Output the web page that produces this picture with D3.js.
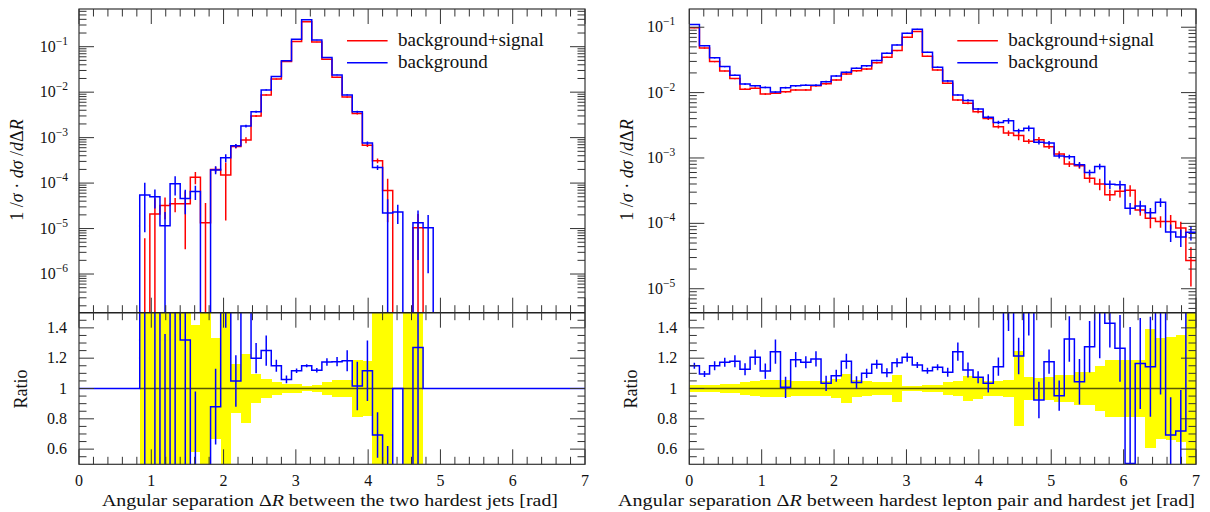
<!DOCTYPE html>
<html>
<head>
<meta charset="utf-8">
<script src="https://cdn.jsdelivr.net/npm/d3@7"></script>
<style>
  body { margin: 0; background: #fff; }
  svg { display: block; }
  text { font-family: "Liberation Serif", "DejaVu Serif", serif; fill: #111; }
</style>
</head>
<body>
<svg id="canvas"></svg>
<script>
// bins in Delta R, 50 bins of 0.14 rad
const binEdges = [0,0.14,0.28,0.42,0.56,0.7,0.84,0.98,1.12,1.26,1.4,1.54,1.68,1.82,1.96,2.1,2.24,2.38,2.52,2.66,2.8,2.94,3.08,3.22,3.36,3.5,3.64,3.78,3.92,4.06,4.2,4.34,4.48,4.62,4.76,4.9,5.04,5.18,5.32,5.46,5.6,5.74,5.88,6.02,6.16,6.3,6.44,6.58,6.72,6.86,7]
const xTicks = [0,1,2,3,4,5,6,7]
const ratioTicks = [0.6,0.8,1,1.2,1.4]
const ratioTickLabels = ['0.6','0.8','1','1.2','1.4']
const legendLabels = ['background+signal','background']

// left: two hardest jets
const jetsSigBkg = [0,0,0,0,0,0,1.2e-7,2.1e-5,3.2e-5,3.5e-5,3.5e-5,1.35e-4,1.35e-5,2.0e-4,1.5e-4,6.4e-4,8.9e-4,3.0e-3,8.7e-3,1.95e-2,4.7e-2,0.13,0.355,0.127,0.053,0.0213,7.8e-3,3.4e-3,6.8e-4,3.1e-4,6.9e-5,0,0,1.04e-5,0,0,0,0,0,0,0,0,0,0,0,0,0,0,0,0]
const jetsSigBkgErr = [0,0,0,0,0,0,50,1.2,0.5,0.35,0.9,0.3,1.7,0.15,0.9,0.1,0.15,0.05,0.03,0.02,0.015,0.01,0.01,0.01,0.015,0.02,0.03,0.05,0.08,0.12,0.8,0,0,1.0,0,0,0,0,0,0,0,0,0,0,0,0,0,0,0,0]
const jetsBkg = [0,0,0,0,0,0,5.5e-5,5.0e-5,1.15e-5,9.7e-5,4.6e-5,6.5e-5,0,1.95e-4,3.6e-4,6.6e-4,1.8e-3,3.7e-3,1.12e-2,2.2e-2,4.9e-2,0.145,0.39,0.14,0.058,0.024,8.7e-3,3.7e-3,7.6e-4,2.2e-4,2.2e-5,2.3e-5,0,1.35e-5,1.04e-5,0,0,0,0,0,0,0,0,0,0,0,0,0,0,0]
const jetsBkgErr = [0,0,0,0,0,0,0.85,0.45,1.0,0.45,0.55,0.35,0,0.2,0.2,0.1,0.07,0.05,0.03,0.02,0.015,0.01,0.01,0.01,0.015,0.02,0.03,0.05,0.08,0.12,1.0,0.45,0,0.85,0.9,0,0,0,0,0,0,0,0,0,0,0,0,0,0,0]
const jetsRatio = [1,1,1,1,1,1,3,2.4,0.36,2.8,1.32,0.48,0,0.88,2.4,1.05,2.0,1.2,1.25,1.15,1.06,1.117,1.15,1.12,1.175,1.177,1.183,1.016,1.117,0.693,0.32,1,0,1.27,1,1,1,1,1,1,1,1,1,1,1,1,1,1,1,1]
const jetsRatioErr = [0,0,0,0,0,0,3,3,1,3,1,0.5,0,0.25,1,0.17,0.3,0.1,0.1,0.04,0.025,0.015,0.01,0.015,0.025,0.03,0.07,0.16,0.2,0.15,0.3,0,0,1,0,0,0,0,0,0,0,0,0,0,0,0,0,0,0,0]
const jetsBand = [0,0,0,0,0,0,1,1,1,1,1,0.42,1,0.33,1,0.16,0.23,0.095,0.065,0.045,0.03,0.03,0.015,0.02,0.045,0.055,0.055,0.19,0.18,0.5,1,0,1,1,0,0,0,0,0,0,0,0,0,0,0,0,0,0,0,0]

// right: hardest lepton pair and hardest jet
const lepSigBkg = [0.098,0.048,0.0298,0.0214,0.0164,0.0113,0.0117,0.0095,0.0098,0.0103,0.011,0.011,0.0127,0.0136,0.0156,0.0193,0.0215,0.0229,0.0287,0.0347,0.0439,0.070,0.086,0.036,0.0222,0.0139,0.0077,0.0069,0.0051,0.0040,0.0030,0.0024,0.0022,0.0018,0.0019,0.00149,0.00115,0.00081,7.6e-4,4.9e-4,4.0e-4,2.75e-4,3.1e-4,3.2e-4,1.6e-4,1.2e-4,1.07e-4,1.07e-4,8.5e-5,2.7e-5]
const lepSigBkgErr = [0.015,0.02,0.02,0.02,0.02,0.03,0.03,0.03,0.03,0.03,0.03,0.03,0.03,0.03,0.03,0.03,0.03,0.03,0.025,0.025,0.02,0.02,0.02,0.02,0.025,0.03,0.03,0.04,0.05,0.05,0.06,0.1,0.15,0.08,0.1,0.08,0.1,0.1,0.1,0.15,0.2,0.2,0.2,0.2,0.18,0.3,0.2,0.25,0.25,0.6]
const lepBkg = [0.11,0.052,0.034,0.025,0.0185,0.0135,0.0127,0.012,0.0102,0.0119,0.0127,0.013,0.013,0.0147,0.018,0.0204,0.0236,0.0257,0.031,0.040,0.0537,0.081,0.093,0.0415,0.0244,0.0151,0.0092,0.0076,0.0056,0.0042,0.0035,0.0037,0.0026,0.00285,0.00174,0.0017,0.00107,0.00104,7.9e-4,6.0e-4,7.4e-4,3.95e-4,3.9e-4,1.7e-4,1.85e-4,1.45e-4,2.1e-4,7.4e-5,6.2e-5,7.3e-5]
const lepBkgErr = [0.015,0.02,0.02,0.02,0.02,0.03,0.03,0.03,0.03,0.03,0.03,0.03,0.03,0.03,0.03,0.03,0.03,0.03,0.025,0.025,0.02,0.02,0.02,0.02,0.025,0.03,0.03,0.04,0.04,0.05,0.06,0.1,0.08,0.1,0.08,0.07,0.08,0.08,0.1,0.1,0.1,0.15,0.15,0.2,0.2,0.18,0.15,0.3,0.3,0.25]
const lepRatio = [1.15,1.096,1.15,1.173,1.18,1.127,1.206,1.115,1.243,1.008,1.19,1.173,1.195,1.034,1.084,1.18,1.04,1.10,1.16,1.104,1.17,1.206,1.155,1.117,1.14,1.107,1.243,1.122,1.074,1.034,1.144,1.55,1.214,1.6,0.924,1.177,0.953,1.327,1.045,1.276,1.85,1.43,1.265,0.505,1.165,1.144,1.96,0.693,0.72,2.7]
const lepRatioErr = [0.02,0.02,0.03,0.03,0.04,0.04,0.05,0.05,0.08,0.07,0.05,0.04,0.05,0.05,0.04,0.05,0.04,0.03,0.03,0.03,0.03,0.03,0.02,0.02,0.02,0.03,0.06,0.05,0.04,0.06,0.06,0.17,0.12,0.25,0.12,0.08,0.1,0.15,0.15,0.17,0.65,0.16,0.22,0.9,0.3,0.33,1.0,0.25,0.27,0.5]
const lepBand = [0.02,0.02,0.025,0.03,0.03,0.04,0.05,0.055,0.055,0.055,0.05,0.05,0.05,0.05,0.06,0.095,0.055,0.05,0.04,0.04,0.09,0.015,0.015,0.02,0.025,0.045,0.05,0.08,0.07,0.05,0.05,0.055,0.25,0.075,0.07,0.075,0.09,0.09,0.11,0.11,0.15,0.19,0.19,0.19,0.19,0.39,0.33,0.34,0.35,1]

const width = 1210
const height = 512
const topY = 9
const splitY = 312.7
const bottomY = 464.3
const red = '#ff0000'
const blue = '#0000ff'

let canvas = d3.select('#canvas')
canvas.attr('width', width)
canvas.attr('height', height)
let defs = canvas.append('defs')

let panels = [
    {id: 'jets', left: 79, right: 585, yMin: 1.41e-7, yMax: 0.675, logGap: 11,
     sig: jetsSigBkg, sigErr: jetsSigBkgErr, bkg: jetsBkg, bkgErr: jetsBkgErr,
     ratio: jetsRatio, ratioErr: jetsRatioErr, band: jetsBand,
     yTitleX: 22.7, ratioTitleX: 26.7, xTitle: ['Angular separation Δ', 'R', ' between the two hardest jets [rad]'],
     xTitleStart: 102, xTitleLen: 456},
    {id: 'lep', left: 689.3, right: 1196, yMin: 4.3e-6, yMax: 0.19, logGap: 14,
     sig: lepSigBkg, sigErr: lepSigBkgErr, bkg: lepBkg, bkgErr: lepBkgErr,
     ratio: lepRatio, ratioErr: lepRatioErr, band: lepBand,
     yTitleX: 633, ratioTitleX: 637.3, xTitle: ['Angular separation Δ', 'R', ' between hardest lepton pair and hardest jet [rad]'],
     xTitleStart: 618, xTitleLen: 577}
]

let drawPanel = (p) => {
    let xScale = d3.scaleLinear().domain([0, 7]).range([p.left, p.right])
    let yScale = d3.scaleLog().domain([p.yMin, p.yMax]).range([splitY, topY])
    let rScale = d3.scaleLinear().domain([0.5, 1.5]).range([bottomY, splitY])

    defs.append('clipPath').attr('id', 'top-' + p.id).append('rect')
        .attr('x', p.left).attr('y', topY).attr('width', p.right - p.left).attr('height', splitY - topY)
    defs.append('clipPath').attr('id', 'ratio-' + p.id).append('rect')
        .attr('x', p.left).attr('y', splitY).attr('width', p.right - p.left).attr('height', bottomY - splitY)

    let yTop = (v) => v > p.yMin ? yScale(v) : splitY + 6
    let yRat = (r) => rScale(Math.max(0.4, Math.min(1.6, r)))
    let points = (vals) => vals.map((v, i) => ({x: binEdges[i], v: v}))
        .concat([{x: binEdges[vals.length], v: vals[vals.length - 1]}])
    let stepLine = (yFn) => d3.line().x(d => xScale(d.x)).y(d => yFn(d.v)).curve(d3.curveStepAfter)
    let mid = (i) => xScale((binEdges[i] + binEdges[i + 1]) / 2)

    // ratio panel
    let rg = canvas.append('g').attr('clip-path', 'url(#ratio-' + p.id + ')')
    let bandBins = p.band.map((e, i) => ({e: e, i: i})).filter(d => d.e > 0)
    rg.selectAll('rect.band')
        .data(bandBins)
        .enter()
        .append('rect')
        .attr('class', 'band')
        .attr('x', d => xScale(binEdges[d.i]))
        .attr('width', d => xScale(binEdges[d.i + 1]) - xScale(binEdges[d.i]) + 0.3)
        .attr('y', d => yRat(1 + d.e))
        .attr('height', d => yRat(1 - d.e) - yRat(1 + d.e))
        .attr('fill', '#ffff00')
        .attr('shape-rendering', 'crispEdges')

    let first = bandBins[0].i
    let last = bandBins[bandBins.length - 1].i
    rg.append('line')
        .attr('x1', xScale(binEdges[first])).attr('x2', xScale(binEdges[last + 1]))
        .attr('y1', rScale(1)).attr('y2', rScale(1))
        .attr('stroke', '#000').attr('stroke-opacity', 0.65).attr('stroke-width', 1.6)

    rg.append('path')
        .attr('d', stepLine(yRat)(points(p.ratio)))
        .attr('fill', 'none').attr('stroke', blue).attr('stroke-width', 1.5)

    rg.selectAll('line.rerr')
        .data(p.ratio.map((r, i) => ({r: r, e: p.ratioErr[i], i: i})).filter(d => d.e > 0))
        .enter()
        .append('line')
        .attr('class', 'rerr')
        .attr('x1', d => mid(d.i)).attr('x2', d => mid(d.i))
        .attr('y1', d => yRat(d.r + d.e)).attr('y2', d => yRat(d.r - d.e))
        .attr('stroke', blue).attr('stroke-width', 1.5)

    // main panel
    let tg = canvas.append('g').attr('clip-path', 'url(#top-' + p.id + ')')
    let drawSeries = (vals, errs, color, cls) => {
        tg.append('path')
            .attr('d', stepLine(yTop)(points(vals)))
            .attr('fill', 'none').attr('stroke', color).attr('stroke-width', 1.5)
        tg.selectAll('line.' + cls)
            .data(vals.map((v, i) => ({v: v, e: errs[i], i: i})).filter(d => d.v > 0 && d.e > 0))
            .enter()
            .append('line')
            .attr('class', cls)
            .attr('x1', d => mid(d.i)).attr('x2', d => mid(d.i))
            .attr('y1', d => yTop(d.v * (1 + d.e))).attr('y2', d => yTop(d.v * (1 - d.e)))
            .attr('stroke', color).attr('stroke-width', 1.5)
    }
    drawSeries(p.sig, p.sigErr, red, 'serr')
    drawSeries(p.bkg, p.bkgErr, blue, 'berr')

    // frames
    let fg = canvas.append('g')
    fg.append('rect')
        .attr('x', p.left).attr('y', topY).attr('width', p.right - p.left).attr('height', bottomY - topY)
        .attr('fill', 'none').attr('stroke', '#333').attr('stroke-width', 1.2)
    fg.append('line')
        .attr('x1', p.left).attr('x2', p.right).attr('y1', splitY).attr('y2', splitY)
        .attr('stroke', '#222').attr('stroke-width', 1.6)

    // ticks
    let segs = []
    let xMinor = d3.range(0, 70.5, 2).map(v => v / 10)
    xMinor.forEach(v => {
        let len = Number.isInteger(v) ? 15 : 7.5
        let x = xScale(v)
        segs.push([x, topY, x, topY + len])
        segs.push([x, splitY, x, splitY - len])
        segs.push([x, splitY, x, splitY + len])
        segs.push([x, bottomY, x, bottomY - len])
    })
    let logTicks = yScale.ticks().filter(v => v >= p.yMin && v <= p.yMax)
    let isDecade = (v) => Math.abs(Math.log10(v) - Math.round(Math.log10(v))) < 1e-9
    logTicks.forEach(v => {
        let len = isDecade(v) ? 15 : 7.5
        let y = yScale(v)
        segs.push([p.left, y, p.left + len, y])
        segs.push([p.right, y, p.right - len, y])
    })
    d3.range(11, 30).map(v => v * 0.05).forEach(v => {
        let major = Math.abs(v * 5 - Math.round(v * 5)) < 1e-6
        let len = major ? 15 : 7.5
        let y = rScale(v)
        segs.push([p.left, y, p.left + len, y])
        segs.push([p.right, y, p.right - len, y])
    })
    fg.selectAll('line.tick')
        .data(segs)
        .enter()
        .append('line')
        .attr('class', 'tick')
        .attr('x1', d => d[0]).attr('y1', d => d[1]).attr('x2', d => d[2]).attr('y2', d => d[3])
        .attr('stroke', '#333').attr('stroke-width', 1)

    // tick labels
    logTicks.filter(isDecade).forEach(v => {
        let t = fg.append('text')
            .attr('x', p.left - p.logGap).attr('y', yScale(v) + 5)
            .attr('text-anchor', 'end').attr('font-size', 16)
        t.append('tspan').text('10')
        t.append('tspan').attr('dy', -7).attr('font-size', 11.5).text('−' + Math.round(-Math.log10(v)))
    })
    fg.selectAll('text.rlab')
        .data(ratioTicks)
        .enter()
        .append('text')
        .attr('class', 'rlab')
        .attr('x', p.left - 12).attr('y', d => rScale(d) + 5)
        .attr('text-anchor', 'end').attr('font-size', 16)
        .text((d, i) => ratioTickLabels[i])
    fg.selectAll('text.xlab')
        .data(xTicks)
        .enter()
        .append('text')
        .attr('class', 'xlab')
        .attr('x', d => xScale(d)).attr('y', 486)
        .attr('text-anchor', 'middle').attr('font-size', 16)
        .text(d => d)

    // axis titles
    let xt = fg.append('text')
        .attr('x', p.xTitleStart).attr('y', 506)
        .attr('font-size', 17)
        .attr('textLength', p.xTitleLen).attr('lengthAdjust', 'spacingAndGlyphs')
    xt.append('tspan').text(p.xTitle[0])
    xt.append('tspan').attr('font-style', 'italic').text(p.xTitle[1])
    xt.append('tspan').text(p.xTitle[2])

    let yt = fg.append('text')
        .attr('transform', 'translate(' + p.yTitleX + ',170) rotate(-90)')
        .attr('text-anchor', 'middle').attr('font-size', 18)
    yt.append('tspan').text('1 /')
    yt.append('tspan').attr('font-style', 'italic').text('σ')
    yt.append('tspan').text(' · ')
    yt.append('tspan').attr('font-style', 'italic').text('dσ')
    yt.append('tspan').text(' /')
    yt.append('tspan').attr('font-style', 'italic').text('d')
    yt.append('tspan').text('Δ')
    yt.append('tspan').attr('font-style', 'italic').text('R')

    fg.append('text')
        .attr('transform', 'translate(' + p.ratioTitleX + ',389) rotate(-90)')
        .attr('text-anchor', 'middle').attr('font-size', 18)
        .text('Ratio')

    // legend
    let lx = p.left + 268
    let lg = fg.selectAll('g.legend')
        .data(legendLabels)
        .enter()
        .append('g')
        .attr('class', 'legend')
        .attr('transform', (d, i) => 'translate(' + lx + ',' + (40.7 + i * 22) + ')')
    lg.append('line')
        .attr('x1', 0).attr('x2', 40.6).attr('y1', 0).attr('y2', 0)
        .attr('stroke', (d, i) => i === 0 ? red : blue).attr('stroke-width', 1.5)
    lg.append('text')
        .attr('x', 51).attr('y', 5)
        .attr('font-size', 19)
        .text(d => d)
}

panels.forEach(drawPanel)
</script>
</body>
</html>
